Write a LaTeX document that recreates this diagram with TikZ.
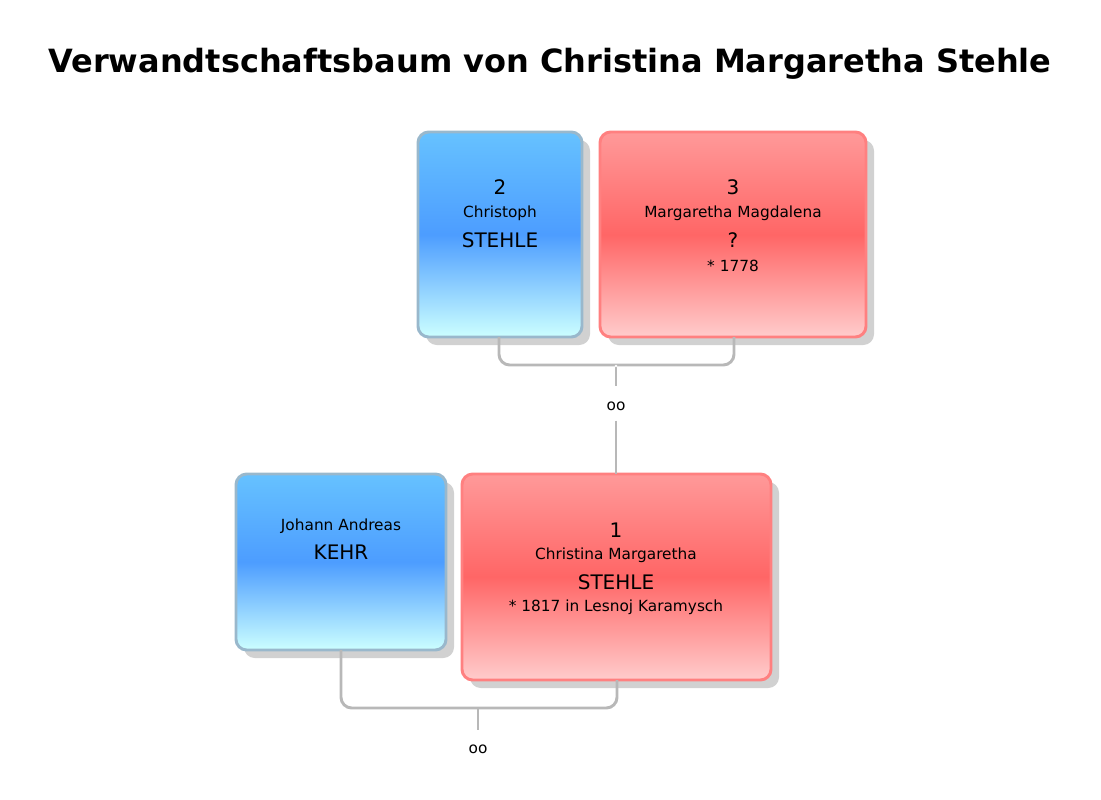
\documentclass[tikz,border=0pt]{standalone}
\usepackage{fontspec}
\setmainfont{DejaVu Sans}
\usetikzlibrary{shadows}
\begin{document}
\begin{tikzpicture}[x=0.75pt,y=-0.75pt,
  m/.style={draw=none,fill=black!28,rounded corners=9pt},
  man/.style={draw=blue!40!cyan!50!black!40!white,line width=2.2pt,rounded corners=8pt,top color=blue!40!cyan!60!white,bottom color=cyan!20,middle color=blue!55!cyan!70!white},
  woman/.style={draw=red!50,line width=2.2pt,rounded corners=8pt,top color=red!40,bottom color=red!20,middle color=red!60},
  con/.style={draw=black!28,line width=2.2pt,rounded corners=8pt},
  t/.style={inner sep=0pt,anchor=center}]
\useasboundingbox (0,0) rectangle (1101,800);
\node[t,font=\bfseries\fontsize{24}{28}\selectfont] (title) at (550,64) {Verwandtschaftsbaum von Christina Margaretha Stehle};
% shadows
\fill[black!18,rounded corners=8pt] (426,140) rectangle (590,345);
\fill[black!18,rounded corners=8pt] (608,140) rectangle (874,345);
\fill[black!18,rounded corners=8pt] (244,482) rectangle (454,658);
\fill[black!18,rounded corners=8pt] (470,482) rectangle (779,688);
% boxes
\path[man] (418,132) rectangle (582,337);
\path[woman] (600,132) rectangle (866,337);
\path[man] (236,474) rectangle (446,650);
\path[woman] (462,474) rectangle (771,680);
\coordinate (b2) at (499,337); \coordinate (b3) at (734,337);
\coordinate (bk) at (341,650); \coordinate (b1) at (617,680);
% texts
\node[t,font=\fontsize{15}{18}\selectfont] (n2) at (500,187) {2};
\node[t,font=\fontsize{11.5}{14}\selectfont] (g2) at (500,213) {Christoph};
\node[t,font=\fontsize{15}{18}\selectfont] (s2) at (500,240) {STEHLE};
\node[t,font=\fontsize{15}{18}\selectfont] (n3) at (733,187) {3};
\node[t,font=\fontsize{11.5}{14}\selectfont] (g3) at (733,213) {Margaretha Magdalena};
\node[t,font=\fontsize{15}{18}\selectfont] (s3) at (733,240) {?};
\node[t,font=\fontsize{11.5}{14}\selectfont] (d3) at (733,266) {* 1778};
\node[t,font=\fontsize{11.5}{14}\selectfont] (gk) at (341,526) {Johann Andreas};
\node[t,font=\fontsize{15}{18}\selectfont] (sk) at (341,552) {KEHR};
\node[t,font=\fontsize{15}{18}\selectfont] (n1) at (616,530) {1};
\node[t,font=\fontsize{11.5}{14}\selectfont] (g1) at (616,555) {Christina Margaretha};
\node[t,font=\fontsize{15}{18}\selectfont] (s1) at (616,582) {STEHLE};
\node[t,font=\fontsize{11.5}{14}\selectfont] (d1) at (616,607) {* 1817 in Lesnoj Karamysch};
\node[t,font=\fontsize{11.5}{14}\selectfont] (oo1) at (616,406) {oo};
\node[t,font=\fontsize{11.5}{14}\selectfont] (oo2) at (478,749) {oo};
% connectors
\draw[con] (b2) -- (499,365) -- (734,365) -- (b3);
\draw[con,rounded corners=0pt] (616,365) -- (616,386);
\fill[white] (616,366) circle (1pt);
\draw[con] (oo1.south)++(0,10) -- (616,474);
\draw[con] (bk) -- (341,708) -- (617,708) -- (b1);
\draw[con,rounded corners=0pt] (478,708) -- (478,730);
\end{tikzpicture}
\end{document}
